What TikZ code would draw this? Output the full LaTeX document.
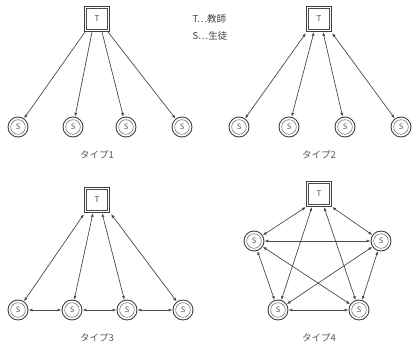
\documentclass[tikz,border=0pt]{standalone}
\usepackage{fontspec}
\newfontfamily\jp{Noto Sans CJK JP}
\usetikzlibrary{arrows.meta,calc}
\begin{document}
\begin{tikzpicture}[x=1pt,y=-1pt,
  line/.style={draw=black!70,line width=0.7pt},
  one/.style={line,-{Latex[length=4pt,width=3pt]}},
  two/.style={line,{Latex[length=4pt,width=3pt]}-{Latex[length=4pt,width=3pt]}},
  tbox/.style={rectangle,draw,color=black!75,line width=1pt,minimum width=25pt,minimum height=25pt,inner sep=0pt,font=\jp\fontsize{8}{9}\selectfont,text=black!70},
  snode/.style={circle,draw,color=black!75,line width=0.9pt,minimum size=20pt,inner sep=0pt,font=\jp\fontsize{7.5}{8}\selectfont,text=black!70},
  innerline/.style={draw=black!70,line width=0.45pt},
  captext/.style={font=\jp\fontsize{9.5}{10}\selectfont,text=black!65},
  leg/.style={font=\jp\fontsize{9.5}{10}\selectfont,text=black!75,anchor=west}]
\useasboundingbox (0,0) rectangle (413,347);
% legend
\node[leg] (l1) at (189,19) {T…教師};
\node[leg] (l2) at (189,36) {S…生徒};
% type 1
\node[tbox] (T1) at (97,19) {T};
\node[snode] (a1) at (18,127) {S};
\node[snode] (a2) at (73,127) {S};
\node[snode] (a3) at (126,127) {S};
\node[snode] (a4) at (182,127) {S};
\node[captext] (c1) at (97,155) {タイプ1};
\draw[one] ([xshift=-12pt]T1.south) -- (a1);
\draw[one] ([xshift=-5pt]T1.south) -- (a2);
\draw[one] ([xshift=5pt]T1.south) -- (a3);
\draw[one] ([xshift=11pt]T1.south) -- (a4);
% type 2
\node[tbox] (T2) at (319,19) {T};
\node[snode] (b1) at (239,127) {S};
\node[snode] (b2) at (289,127) {S};
\node[snode] (b3) at (345,127) {S};
\node[snode] (b4) at (401,127) {S};
\node[captext] (c2) at (319,155) {タイプ2};
\draw[two] ([xshift=-13pt,yshift=-1pt]T2.south) -- (b1);
\draw[two] ([xshift=-5pt]T2.south) -- (b2);
\draw[two] ([xshift=4pt]T2.south) -- (b3);
\draw[two] ([xshift=13pt,yshift=-1pt]T2.south) -- (b4);
% type 3
\node[tbox] (T3) at (97,200) {T};
\node[snode] (d1) at (18,310) {S};
\node[snode] (d2) at (72,310) {S};
\node[snode] (d3) at (127,310) {S};
\node[snode] (d4) at (183,310) {S};
\node[captext] (c3) at (97,338) {タイプ3};
\draw[two] ([xshift=-13pt,yshift=-1pt]T3.south) -- (d1);
\draw[two] ([xshift=-4pt]T3.south) -- (d2);
\draw[two] ([xshift=5pt]T3.south) -- (d3);
\draw[two] ([xshift=14pt,yshift=-1pt]T3.south) -- (d4);
\draw[two] (d1) -- (d2);
\draw[two] (d2) -- (d3);
\draw[two] (d3) -- (d4);
% type 4
\node[tbox] (T4) at (319,194) {T};
\node[snode] (e1) at (254,241) {S};
\node[snode] (e2) at (381,241) {S};
\node[snode] (e3) at (278,310) {S};
\node[snode] (e4) at (359,310) {S};
\node[captext] (c4) at (319,338) {タイプ4};
\draw[two] (T4.south west) -- (e1);
\draw[two] (T4.south east) -- (e2);
\draw[two] ([xshift=-7pt]T4.south) -- (e3);
\draw[two] ([xshift=5pt]T4.south) -- (e4);
\draw[two] (e1) -- (e2);
\draw[two] (e1) -- (e3);
\draw[two] (e1) -- (e4);
\draw[two] (e2) -- (e3);
\draw[two] (e2) -- (e4);
\draw[two] (e3) -- (e4);
% inner lines of the double borders
\foreach \n in {T1,T2,T3,T4}
  \draw[innerline] ($(\n.center)+(-10.3,-10.3)$) rectangle ($(\n.center)+(10.3,10.3)$);
\foreach \n in {a1,a2,a3,a4,b1,b2,b3,b4,d1,d2,d3,d4,e1,e2,e3,e4}
  \draw[innerline] (\n.center) circle[radius=7.3pt];
\end{tikzpicture}
\end{document}
